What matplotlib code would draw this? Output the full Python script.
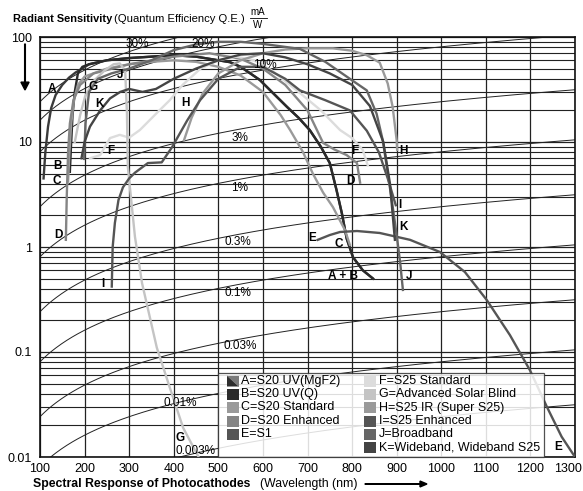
import numpy as np
import matplotlib
matplotlib.use('Agg')
import matplotlib.pyplot as plt
from matplotlib.patches import Rectangle, Polygon
import matplotlib.transforms as mtransforms

plt.rcParams['font.family'] = ['Liberation Sans', 'DejaVu Sans']

# ---------------- data (wavelength nm, radiant sensitivity mA/W) -------------
A_wl = [108, 112, 118, 125, 135, 150, 165, 180, 195, 210, 250, 300, 350, 400, 450, 500, 526, 550, 593, 620, 654, 680, 705, 730, 750, 765, 777, 788, 802, 824, 847]
A_s  = [4.5, 8, 14, 21, 28, 35, 41, 46, 50, 55, 60, 63, 65, 67, 65, 60, 57.6, 52, 39, 30, 21.6, 17, 13, 9, 6.3, 3.5, 2.1, 1.2, 0.8, 0.6, 0.5]
B_wl = [167, 170, 173, 178, 185, 195, 210, 250, 300, 350, 400, 450, 500, 526, 550, 593, 620, 654, 680, 705, 730, 750, 765, 777, 788, 802, 824, 847]
B_s  = [5.2, 10, 18, 30, 45, 52, 55, 60, 63, 65, 67, 65, 60, 57.6, 52, 39, 30, 21.6, 17, 13, 9, 6.3, 3.5, 2.1, 1.2, 0.8, 0.6, 0.5]
C_wl = [163, 166, 170, 176, 185, 200, 250, 300, 350, 400, 450, 500, 550, 600, 640, 661, 690, 712, 735, 757, 784, 795]
C_s  = [4.2, 8, 15, 25, 35, 42, 50, 55, 58, 60, 58, 52, 43, 30, 18, 13, 8, 5, 3.3, 2.4, 1.45, 1.05]
D_wl = [158, 160, 163, 167, 175, 190, 220, 300, 400, 480, 550, 600, 650, 700, 735, 760, 788, 811, 818]
D_s  = [1.17, 3, 8, 15, 25, 35, 45, 55, 65, 70, 62, 50, 35, 20, 9.8, 8.5, 7.5, 6.3, 4.1]
E_wl = [723, 750, 773, 811, 862, 930, 997, 1053, 1102, 1154, 1199, 1237, 1270, 1300]
E_s  = [1.17, 1.3, 1.39, 1.42, 1.36, 1.17, 0.896, 0.578, 0.313, 0.145, 0.067, 0.030, 0.0156, 0.01]
F_wl = [212, 235, 257, 279, 300, 324, 362, 391, 420, 460, 500, 540, 580, 620, 680, 730, 773, 800, 824, 835]
F_s  = [7.0, 7.5, 10.9, 11.7, 11, 13, 18.9, 25, 35, 50, 60, 65, 60, 48, 30, 20, 13, 10.9, 8.4, 6.0]
G_wl = [178, 190, 201, 220, 245, 265, 279, 291, 295, 297, 313, 329, 362, 391, 421, 459]
G_s  = [10, 18, 27, 38, 48, 55, 56, 48, 19, 5.8, 1.25, 0.45, 0.11, 0.046, 0.019, 0.0094]
H_wl = [423, 440, 465, 500, 550, 600, 650, 700, 757, 800, 833, 862, 880, 891, 900, 901]
H_s  = [10.4, 17, 29, 45, 60, 70, 76, 78, 78, 74, 67, 57, 36, 21.6, 10.4, 8.4]
I_wl = [261, 263, 268, 276, 286, 300, 313, 342, 373, 396, 430, 459, 500, 550, 600, 650, 683, 740, 795, 833, 860, 880, 898]
I_s  = [0.42, 1.0, 1.7, 2.8, 3.7, 4.5, 5.1, 6.3, 6.4, 8.9, 16, 25, 40, 52, 52, 40, 31, 25, 20, 12.8, 8, 4.5, 2.5]
J_wl = [199, 202, 210, 230, 260, 300, 350, 400, 450, 500, 550, 600, 683, 740, 795, 833, 855, 869, 889, 900, 908, 914]
J_s  = [6.9, 15, 30, 40, 45, 50, 60, 75, 85, 90, 90, 86, 77, 58, 40, 31, 18.6, 10.3, 2.8, 1.3, 0.7, 0.39]
K_wl = [193, 200, 212, 235, 257, 280, 300, 330, 360, 400, 450, 500, 550, 600, 650, 700, 750, 800, 840, 870, 885, 896]
K_s  = [7, 10, 14, 20, 26, 30, 32, 30, 32, 40, 50, 60, 68, 70, 64, 55, 45, 35, 22, 10, 4, 1.17]

curve_keys = ['A', 'B', 'C', 'D', 'E', 'F', 'G', 'H', 'I', 'J', 'K']
curve_names = ['S20 UV(MgF2)', 'S20 UV(Q)', 'S20 Standard', 'S20 Enhanced', 'S1',
               'S25 Standard', 'Advanced Solar Blind', 'S25 IR (Super S25)',
               'S25 Enhanced', 'Broadband', 'Wideband, Wideband S25']
curves = {'A': (A_wl, A_s), 'B': (B_wl, B_s), 'C': (C_wl, C_s), 'D': (D_wl, D_s),
          'E': (E_wl, E_s), 'F': (F_wl, F_s), 'G': (G_wl, G_s), 'H': (H_wl, H_s),
          'I': (I_wl, I_s), 'J': (J_wl, J_s), 'K': (K_wl, K_s)}
colors = {'A': '#3a3a3a', 'B': '#2a2a2a', 'C': '#9a9a9a', 'D': '#858585', 'E': '#555555',
          'F': '#dcdcdc', 'G': '#c4c4c4', 'H': '#9a9a9a', 'I': '#555555', 'J': '#666666',
          'K': '#444444'}

qe_levels = [30, 20, 10, 3, 1, 0.3, 0.1, 0.03, 0.01, 0.003]   # percent
qe_labels = ['30%', '20%', '10%', '3%', '1%', '0.3%', '0.1%', '0.03%', '0.01%', '0.003%']

x_ticks = [100, 200, 300, 400, 500, 600, 700, 800, 900, 1000, 1100, 1200, 1300]
y_ticks = [0.01, 0.1, 1, 10, 100]
y_ticklabels = ['0.01', '0.1', '1', '10', '100']

# ---------------- figure ------------------------------------------------------
W, H = 583, 491
fig = plt.figure(figsize=(W / 100, H / 100), dpi=100)
ax = fig.add_axes([40 / W, 1 - 457 / H, (575 - 40) / W, (457 - 37) / H])
ax.set_yscale('log')
ax.set_xlim(100, 1300)
ax.set_ylim(0.01, 100)

# grid
ax.set_xticks(x_ticks)
ax.set_xticklabels([str(v) for v in x_ticks], fontsize=9)
ax.set_yticks(y_ticks)
ax.set_yticklabels(y_ticklabels, fontsize=9)
ax.yaxis.set_minor_locator(matplotlib.ticker.LogLocator(base=10, subs=np.arange(2, 10)))
ax.yaxis.set_minor_formatter(matplotlib.ticker.NullFormatter())
ax.tick_params(which='both', length=0)
ax.tick_params(axis='y', pad=6)
ax.tick_params(axis='x', pad=4)
last = ax.get_xticklabels()[-1]
last.set_ha('right')
last.set_transform(last.get_transform() + mtransforms.ScaledTranslation(7 / 100, 0, fig.dpi_scale_trans))
ax.grid(True, which='major', color='#222222', lw=0.9)
ax.grid(True, which='minor', axis='y', color='#222222', lw=0.8)
ax.set_axisbelow(True)
for sp in ax.spines.values():
    sp.set_color('#111111')
    sp.set_linewidth(1.2)

# QE lines
wl = np.linspace(100, 1300, 400)
for q in qe_levels:
    ax.plot(wl, q / 100 * wl / 1239.84 * 1000, color='#222222', lw=0.7, zorder=2)


def px(x, y):
    """pixel position of the reference -> data coords (for text placement)"""
    return 100 + (x - 40) / 0.446, 10 ** ((247 - y) / 105.5)


qe_label_pos = [(137, 43), (203, 43), (265, 64), (240, 137), (240, 188), (238, 242),
                (238, 293), (240, 346), (180, 404), (196, 452)]
for lab, (x, y) in zip(qe_labels, qe_label_pos):
    tx, ty = px(x, y)
    ax.text(tx, ty, lab, fontsize=8.5, ha='center', va='center', zorder=6)

# curves
for k in curve_keys:
    xs, ys = curves[k]
    ax.plot(xs, ys, color=colors[k], lw=1.7, zorder=4, solid_joinstyle='round')

# curve letters
letter_pos = [('A', 52, 88), ('G', 93, 86), ('J', 120, 74), ('K', 100, 103), ('H', 185, 102),
              ('F', 111, 151), ('B', 58, 166), ('C', 57, 181), ('D', 58, 235), ('I', 103, 284),
              ('F', 355, 151), ('H', 404, 151), ('D', 351, 181), ('I', 400, 205), ('K', 404, 227),
              ('E', 312, 238), ('C', 339, 244), ('A + B', 343, 276), ('J', 409, 276),
              ('G', 180, 439), ('E', 558, 448)]
for lab, x, y in letter_pos:
    tx, ty = px(x, y)
    ax.text(tx, ty, lab, fontsize=8.5, fontweight='bold', ha='center', va='center', zorder=7)


def fpt(x, y):
    return x / W, 1 - y / H


# legend (manual, two columns)
lx0, ly0 = fpt(218, 457)
lx1, ly1 = fpt(544, 373)
fig.patches.append(Rectangle((lx0, ly0), lx1 - lx0, ly1 - ly0, transform=fig.transFigure,
                             facecolor='white', alpha=0.85, edgecolor='#333333', lw=0.9, zorder=10))
rows_y = [381, 394, 407.5, 421, 434, 447.5]
for i, k in enumerate(curve_keys):
    if i < 5:
        px0, tx0, ry = 227, 241, rows_y[i]
    else:
        px0, tx0, ry = 364, 379, rows_y[i - 5]
    x0, y0 = fpt(px0, ry + 5.5)
    x1, y1 = fpt(px0 + 12, ry - 5.5)
    if k == 'A':
        fig.patches.append(Polygon([(x0, y0), (x1, y0), (x0, y1)], closed=True,
                                   transform=fig.transFigure, facecolor='#2e2e2e', lw=0, zorder=11))
        fig.patches.append(Polygon([(x1, y0), (x1, y1), (x0, y1)], closed=True,
                                   transform=fig.transFigure, facecolor='#7a7a7a', lw=0, zorder=11))
    else:
        fig.patches.append(Rectangle((x0, y0), x1 - x0, y1 - y0, transform=fig.transFigure,
                                     facecolor=colors[k], lw=0, zorder=11))
    tx, ty = fpt(tx0, ry)
    fig.text(tx, ty, k + '=' + curve_names[i], fontsize=9, va='center', ha='left', zorder=12)

# titles
fig.text(13 / W, 1 - 19 / H, 'Radiant Sensitivity', fontsize=7.9, fontweight='bold', va='center')
fig.text(114 / W, 1 - 19 / H, '(Quantum Efficiency Q.E.)', fontsize=8.1, va='center')
fig.text(258 / W, 1 - 12 / H, 'mA', fontsize=7, va='center', ha='center')
fig.text(258 / W, 1 - 24.5 / H, 'W', fontsize=7, va='center', ha='center')
fig.lines.append(plt.Line2D([250 / W, 267 / W], [1 - 18 / H, 1 - 18 / H], transform=fig.transFigure,
                            color='black', lw=0.6))

fig.text(33 / W, 1 - 484 / H, 'Spectral Response of Photocathodes', fontsize=8.8, fontweight='bold', va='center')
fig.text(260 / W, 1 - 484 / H, '(Wavelength (nm)', fontsize=8.8, va='center')
fig.patches.append(matplotlib.patches.FancyArrow(365 / W, 1 - 484 / H, 62 / W, 0, width=0.0008,
                                                 head_width=0.012, head_length=0.012,
                                                 length_includes_head=True, transform=fig.transFigure,
                                                 color='black'))
fig.patches.append(matplotlib.patches.FancyArrow(25 / W, 1 - 44 / H, 0, -46 / H, width=0.0012,
                                                 head_width=0.014, head_length=0.016,
                                                 length_includes_head=True, transform=fig.transFigure,
                                                 color='black'))

fig.savefig('out.png', dpi=100)
